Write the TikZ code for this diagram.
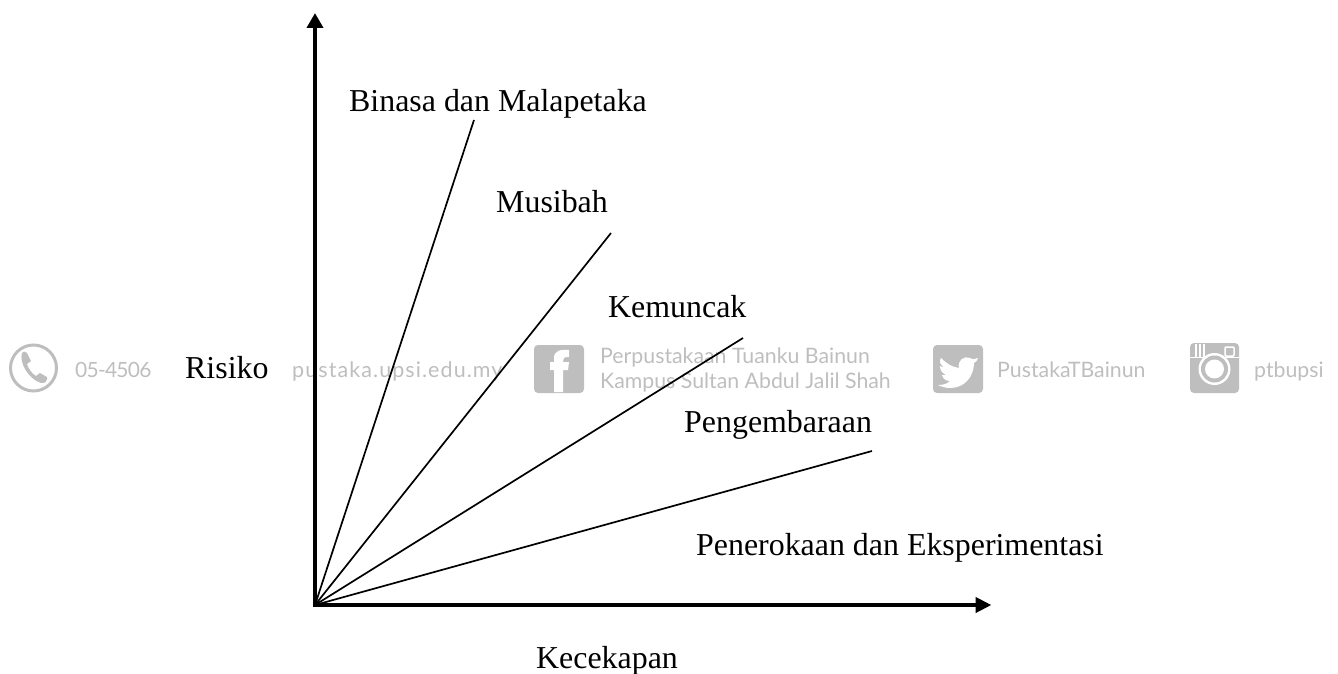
\documentclass[tikz,border=0pt]{standalone}
\usepackage{fontspec}
\setmainfont{Liberation Serif}
\newfontfamily\wmfont{Lato}
\newfontfamily\wmfontwide[LetterSpace=5]{Lato}
\newfontfamily\wmfontnarrow[LetterSpace=-3.7]{Lato}
\usetikzlibrary{arrows.meta}
\definecolor{wmgray}{HTML}{BEBEBE}
\tikzset{
  label text/.style={anchor=base west,inner sep=0pt,font=\fontsize{31.9}{36}\selectfont},
  wm text/.style={anchor=base west,inner sep=0pt,text=wmgray,font=\wmfont\fontsize{21.3}{26}\selectfont},
  wm wide/.style={anchor=base west,inner sep=0pt,text=wmgray,font=\wmfontwide\fontsize{21.5}{26}\selectfont},
  wm narrow/.style={anchor=base west,inner sep=0pt,text=wmgray,font=\wmfontnarrow\fontsize{21}{26}\selectfont},
  axis y/.style={line width=4.5pt,-{Triangle[length=15pt,width=16pt]}},
  axis x/.style={line width=4pt,-{Triangle[length=16pt,width=15pt]}},
  ray line/.style={line width=1.7pt},
  wm box/.style={fill=wmgray,rounded corners=4pt}
}
\begin{document}
\begin{tikzpicture}[x=1pt,y=-1pt]
\useasboundingbox (0,0) rectangle (1338,674);
% watermark icons
\draw[wmgray,line width=3pt] (33.5,368) circle (23pt);
\fill[wmgray] (22,353) .. controls (19,362) and (28,379) .. (41,383) .. controls (45,384) and (48,380) .. (47,377) -- (40,373) -- (36,376) .. controls (32,374) and (28,368) .. (27,364) -- (31,361) -- (27,353) .. controls (25,351) and (23,351) .. (22,353) -- cycle;
\fill[wm box] (534,345) rectangle (584,393);
\fill[white] (554,392) -- (554,370) -- (550,370) -- (550,362) -- (554,362) -- (554,358) .. controls (554,351) and (560,349) .. (569,350) -- (569,357) .. controls (564,357) and (563,358) .. (563,361) -- (563,362) -- (569,362) -- (568,370) -- (563,370) -- (563,392) -- cycle;
\fill[wm box] (933,345) rectangle (983,393);
\fill[white] (941,358) .. controls (947,364) and (952,367) .. (959,368) .. controls (957,361) and (964,355) .. (970,358) .. controls (973,360) and (975,359) .. (978,358) .. controls (977,361) and (976,362) .. (974,363) .. controls (974,376) and (965,388) .. (950,388) .. controls (946,388) and (942,387) .. (938,385) .. controls (943,385) and (947,384) .. (950,381) .. controls (946,381) and (943,379) .. (942,375) .. controls (944,375) and (945,375) .. (946,375) .. controls (942,373) and (940,370) .. (940,366) .. controls (941,367) and (943,367) .. (944,367) .. controls (940,365) and (939,361) .. (941,358) -- cycle;
\fill[wm box] (1190,343) rectangle (1239,393);
\fill[white] (1190,357) rectangle (1239,358.2);
\fill[white] (1195,344) rectangle (1196.5,357);
\fill[white] (1199,344) rectangle (1200.5,357);
\fill[white] (1203,344) rectangle (1204.5,357);
\draw[white,line width=1.5pt,rounded corners=1pt] (1225,347) rectangle (1234,356);
\fill[white] (1214.5,369) circle (16pt);
\fill[wmgray] (1214.5,369) circle (13.5pt);
\fill[white] (1214.5,369) circle (9.5pt);
% watermark text
\node[wm narrow] (wmphone) at (75,377) {05-4506};
\node[wm wide] (wmsite) at (292,377) {pustaka.upsi.edu.my};
\node[wm text] (wmlib) at (600,363) {Perpustakaan Tuanku Bainun};
\node[wm text] (wmcampus) at (600,388) {Kampus Sultan Abdul Jalil Shah};
\node[wm text] (wmtwitter) at (997,377) {PustakaTBainun};
\node[wm text] (wmig) at (1254,377) {ptbupsi};
% axes and rays
\coordinate (origin) at (315,605);
\coordinate (ytip) at (315,13);
\coordinate (xtip) at (991.5,605);
\coordinate (rayA) at (474,120);
\coordinate (rayB) at (611,233);
\coordinate (rayC) at (743,338);
\coordinate (rayD) at (872,451);
\draw[ray line] (origin) -- (rayA);
\draw[ray line] (origin) -- (rayB);
\draw[ray line] (origin) -- (rayC);
\draw[ray line] (origin) -- (rayD);
\draw[axis y] ([yshift=-2pt]origin) -- (ytip);
\draw[axis x] ([xshift=-2.25pt]origin) -- (xtip);
% labels
\node[label text] (binasa) at (349,112) {Binasa dan Malapetaka};
\node[label text] (musibah) at (496,212) {Musibah};
\node[label text] (kemuncak) at (608,317) {Kemuncak};
\node[label text] (risiko) at (185,378) {Risiko};
\node[label text] (pengembaraan) at (684,432) {Pengembaraan};
\node[label text] (penerokaan) at (696,555) {Penerokaan dan Eksperimentasi};
\node[label text] (kecekapan) at (536,668) {Kecekapan};
\end{tikzpicture}
\end{document}
